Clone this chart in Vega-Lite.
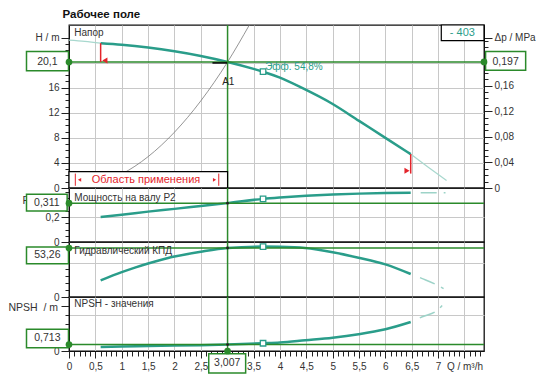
{
"$schema": "https://vega.github.io/schema/vega-lite/v6.json",
"padding": {"left": 7, "top": 8, "right": 0, "bottom": 0},
"bounds": "flush",
"spacing": 0,
"datasets": {
"headMain": [{"Q":0.6,"H":23.1},{"Q":1.0,"H":22.85},{"Q":1.5,"H":22.4},{"Q":2.0,"H":21.8},{"Q":2.5,"H":21.05},{"Q":3.007,"H":20.1},{"Q":3.5,"H":19.0},{"Q":3.68,"H":18.55},{"Q":4.0,"H":17.6},{"Q":4.41,"H":16.0},{"Q":5.0,"H":13.4},{"Q":5.5,"H":10.7},{"Q":6.0,"H":8.0},{"Q":6.48,"H":5.4}],
"headThin": [{"Q":0,"H":23.6,"seg":"a"},{"Q":0.3,"H":23.4,"seg":"a"},{"Q":0.6,"H":23.1,"seg":"a"},{"Q":6.48,"H":5.4,"seg":"b"},{"Q":6.8,"H":3.4,"seg":"b"},{"Q":7.16,"H":1.2,"seg":"b"}],
"system": [{"Q":0,"H":0},{"Q":0.5,"H":0.56},{"Q":1.0,"H":2.22},{"Q":1.5,"H":5.0},{"Q":2.0,"H":8.9},{"Q":2.5,"H":13.9},{"Q":3.007,"H":20.1},{"Q":3.42,"H":26.0}],
"powerMain": [{"Q":0.6,"P":0.2},{"Q":1.0,"P":0.218},{"Q":1.5,"P":0.243},{"Q":2.0,"P":0.265},{"Q":2.5,"P":0.288},{"Q":3.007,"P":0.311},{"Q":3.68,"P":0.345},{"Q":4.0,"P":0.356},{"Q":4.5,"P":0.37},{"Q":5.0,"P":0.38},{"Q":5.5,"P":0.387},{"Q":6.0,"P":0.392},{"Q":6.48,"P":0.394}],
"powerThin": [{"Q":6.48,"P":0.394},{"Q":6.8,"P":0.395},{"Q":7.14,"P":0.395}],
"effMain": [{"Q":0.6,"E":18},{"Q":1.0,"E":27},{"Q":1.25,"E":32},{"Q":1.5,"E":36.5},{"Q":1.88,"E":42.5},{"Q":2.0,"E":44},{"Q":2.5,"E":49.2},{"Q":3.007,"E":53.26},{"Q":3.68,"E":54.8},{"Q":4.0,"E":54.6},{"Q":4.48,"E":53.2},{"Q":5.0,"E":48.6},{"Q":5.49,"E":42.7},{"Q":6.0,"E":35.5},{"Q":6.48,"E":25}],
"effThin": [{"Q":6.48,"E":25},{"Q":6.7,"E":20},{"Q":7.0,"E":12.5},{"Q":7.14,"E":8}],
"npshMain": [{"Q":0.6,"N":0.45},{"Q":1.0,"N":0.5},{"Q":1.5,"N":0.55},{"Q":2.0,"N":0.6},{"Q":2.5,"N":0.65},{"Q":3.007,"N":0.713},{"Q":3.68,"N":0.86},{"Q":4.0,"N":0.95},{"Q":4.48,"N":1.2},{"Q":5.0,"N":1.48},{"Q":5.49,"N":1.86},{"Q":6.0,"N":2.41},{"Q":6.48,"N":3.22}],
"npshThin": [{"Q":6.48,"N":3.22},{"Q":6.7,"N":3.8},{"Q":7.0,"N":4.6},{"Q":7.14,"N":5.5}]
},
"vconcat": [
{
 "width": 415, "height": 163,
 "layer": [
  {
   "encoding": {
    "x": {"field":"Q","type":"quantitative","scale":{"domain":[0,7.87],"nice":false,"zero":false},"axis":{"values":[0,0.5,1,1.5,2,2.5,3,3.5,4,4.5,5,5.5,6,6.5,7,7.5],"labels":false,"ticks":false,"domain":false,"grid":true,"title":null}},
    "y": {"field":"H","type":"quantitative","scale":{"domain":[0,26.0],"nice":false,"zero":false},"axis":{"orient":"left","values":[0,1,2,3,4,5,6,7,8,9,10,11,12,13,14,15,16,17,18,19,20,21,22,23,24],"labelExpr":"datum.value == 24 ? 'H / m' : ((datum.value % 4 == 0 && datum.value != 20) ? datum.label : '')","tickSize":{"condition":{"test":"datum.value % 4 == 0","value":8},"value":4},"grid":true,"gridOpacity":{"condition":{"test":"datum.value % 4 == 0 && datum.value > 0 && datum.value < 24","value":1},"value":0},"labelOverlap":false,"labelFlush":false,"labelPadding":2,"title":null}}
   },
   "layer": [
    {"data":{"name":"system"},"mark":{"type":"line","color":"#7a7a7a","strokeWidth":0.8,"interpolate":"monotone"}},
    {"data":{"name":"headThin"},"mark":{"type":"line","color":"#a8d8ce","strokeWidth":1.2,"interpolate":"monotone"},"encoding":{"detail":{"field":"seg"}}},
    {"data":{"name":"headMain"},"mark":{"type":"line","color":"#2a9d8a","strokeWidth":2.5,"interpolate":"monotone"}},
    {"data":{"values":[{"Q":0,"Q2":7.87,"H":20.1}]},"mark":{"type":"rule","color":"#2b8a2b","strokeWidth":1.5},"encoding":{"x2":{"field":"Q2"}}},
    {"data":{"values":[{"Q":3.007,"H":0,"H2":26}]},"mark":{"type":"rule","color":"#2b8a2b","strokeWidth":1.5},"encoding":{"y2":{"field":"H2"}}},
    {"data":{"values":[{"Q":2.72,"Q2":3.0,"H":19.95}]},"mark":{"type":"rule","color":"black","strokeWidth":1.5},"encoding":{"x2":{"field":"Q2"}}},
    {"data":{"values":[{"Q":0.6,"H":23.1,"H2":20.1},{"Q":6.48,"H":5.4,"H2":2.3}]},"mark":{"type":"rule","color":"#e3242b","strokeWidth":1.5},"encoding":{"y2":{"field":"H2"}}},
    {"data":{"values":[{"Q":0.68,"H":20.35,"dir":"left"},{"Q":6.41,"H":2.75,"dir":"right"}]},"mark":{"type":"point","filled":true,"color":"#e3242b","size":35,"opacity":1},"encoding":{"shape":{"field":"dir","type":"nominal","scale":{"domain":["left","right"],"range":["triangle-left","triangle-right"]},"legend":null}}},
    {"data":{"values":[{"Q":0,"Q2":3.007,"H":0,"H2":2.6}]},"mark":{"type":"rect","fill":"white","stroke":"black","strokeWidth":1.2},"encoding":{"x2":{"field":"Q2"},"y2":{"field":"H2"}}},
    {"data":{"values":[{"Q":0.12,"H":0.35,"H2":2.3},{"Q":2.84,"H":0.35,"H2":2.3}]},"mark":{"type":"rule","color":"#e3242b","strokeWidth":1},"encoding":{"y2":{"field":"H2"}}},
    {"data":{"values":[{"Q":0.2,"H":1.3,"dir":"left"},{"Q":2.76,"H":1.3,"dir":"right"}]},"mark":{"type":"point","filled":true,"color":"#e3242b","size":14,"opacity":1},"encoding":{"shape":{"field":"dir","type":"nominal","scale":{"domain":["left","right"],"range":["triangle-left","triangle-right"]},"legend":null}}},
    {"data":{"values":[{"Q":1.46,"H":1.3,"t":"Область применения"}]},"mark":{"type":"text","color":"#e3242b","fontSize":11,"align":"center","baseline":"middle"},"encoding":{"text":{"field":"t"}}},
    {"data":{"values":[{"Q":7.06,"Q2":7.87,"H":23.5,"H2":26}]},"mark":{"type":"rect","fill":"white","stroke":"black","strokeWidth":1.2},"encoding":{"x2":{"field":"Q2"},"y2":{"field":"H2"}}},
    {"data":{"values":[{"Q":7.46,"H":24.75,"t":"- 403"}]},"mark":{"type":"text","color":"#2a9d8a","fontSize":11,"align":"center","baseline":"middle"},"encoding":{"text":{"field":"t"}}},
    {"data":{"values":[{"Q":-0.806,"Q2":-0.01,"H":18.71,"H2":21.79}]},"mark":{"type":"rect","fill":"white","stroke":"#2b8a2b","strokeWidth":1.5},"encoding":{"x2":{"field":"Q2"},"y2":{"field":"H2"}}},
    {"data":{"values":[{"Q":-0.41,"H":20.1,"t":"20,1"}]},"mark":{"type":"text","color":"#333","fontSize":10.5,"align":"center","baseline":"middle"},"encoding":{"text":{"field":"t"}}},
    {"data":{"values":[{"Q":0,"H":20.1}]},"mark":{"type":"point","filled":true,"color":"#2b8a2b","size":45,"opacity":1}},
    {"data":{"values":[{"Q":3.68,"H":18.55}]},"mark":{"type":"point","shape":"square","filled":true,"fill":"white","stroke":"#2a9d8a","strokeWidth":1.3,"size":30,"opacity":1}},
    {"data":{"values":[{"Q":0.1,"H":24.8,"t":"Напор"}]},"mark":{"type":"text","color":"#333","fontSize":10,"align":"left","baseline":"middle"},"encoding":{"text":{"field":"t"}}},
    {"data":{"values":[{"Q":3.02,"H":16.9,"t":"A1"}]},"mark":{"type":"text","color":"#222","fontSize":10,"align":"center","baseline":"middle"},"encoding":{"text":{"field":"t"}}},
    {"data":{"values":[{"Q":3.72,"H":19.25,"t":"Эфф.  54,8%"}]},"mark":{"type":"text","color":"#2a9d8a","fontSize":10,"align":"left","baseline":"middle"},"encoding":{"text":{"field":"t"}}},
    {"data":{"values":[{"Q":-0.123,"H":27.6,"t":"Рабочее поле"}]},"mark":{"type":"text","color":"#111","fontSize":11.5,"fontWeight":"bold","align":"left","baseline":"middle"},"encoding":{"text":{"field":"t"}}}
   ]
  },
  {
   "encoding": {
    "x": {"field":"Q","type":"quantitative","scale":{"domain":[0,7.87],"nice":false,"zero":false},"axis":{"values":[0,0.5,1,1.5,2,2.5,3,3.5,4,4.5,5,5.5,6,6.5,7,7.5],"labels":false,"ticks":false,"domain":false,"grid":true,"title":null}},
    "y": {"field":"dp","type":"quantitative","scale":{"domain":[0,0.2548],"nice":false,"zero":false},"axis":{"orient":"right","values":[0,0.01,0.02,0.03,0.04,0.05,0.06,0.07,0.08,0.09,0.1,0.11,0.12,0.13,0.14,0.15,0.16,0.17,0.18,0.19,0.2,0.21,0.22,0.23,0.235],"labelExpr":"datum.value == 0.235 ? 'Δp / MPa' : (datum.value == 0 ? '0' : ((abs(datum.value*25 - round(datum.value*25)) < 0.001 && datum.value < 0.17) ? replace(format(datum.value, '.2f'), '.', ',') : ''))","tickSize":{"condition":{"test":"abs(datum.value*25 - round(datum.value*25)) < 0.001 || datum.value == 0.235","value":8},"value":4},"grid":false,"labelOverlap":false,"labelFlush":false,"labelPadding":2,"title":null}}
   },
   "layer": [
    {"data":{"values":[{"Q":7.9,"Q2":8.66,"dp":0.184,"dp2":0.2134}]},"mark":{"type":"rect","fill":"white","stroke":"#2b8a2b","strokeWidth":1.5},"encoding":{"x2":{"field":"Q2"},"y2":{"field":"dp2"}}},
    {"data":{"values":[{"Q":8.28,"dp":0.197,"t":"0,197"}]},"mark":{"type":"text","color":"#333","fontSize":10.5,"align":"center","baseline":"middle"},"encoding":{"text":{"field":"t"}}},
    {"data":{"values":[{"Q":7.87,"dp":0.197}]},"mark":{"type":"point","filled":true,"color":"#2b8a2b","size":45,"opacity":1}}
   ]
  }
 ],
 "resolve": {"scale": {"y": "independent"}}
},
{
 "width": 415, "height": 54,
 "encoding": {
  "x": {"field":"Q","type":"quantitative","scale":{"domain":[0,7.87],"nice":false,"zero":false},"axis":{"values":[0,0.5,1,1.5,2,2.5,3,3.5,4,4.5,5,5.5,6,6.5,7,7.5],"labels":false,"ticks":false,"domain":false,"grid":true,"title":null}},
  "y": {"field":"P","type":"quantitative","scale":{"domain":[0,0.432],"nice":false,"zero":false},"axis":{"orient":"left","values":[0,0.05,0.1,0.15,0.2,0.25,0.3,0.35,0.4],"labelExpr":"datum.value == 0 ? '0' : (abs(datum.value-0.2) < 0.001 ? '0,2' : '')","tickSize":{"condition":{"test":"datum.value == 0 || abs(datum.value-0.2) < 0.001","value":8},"value":4},"grid":true,"gridOpacity":{"condition":{"test":"abs(datum.value-0.2) < 0.001","value":1},"value":0},"labelOverlap":false,"labelFlush":false,"labelPadding":2,"title":null}}
 },
 "layer": [
  {"data":{"name":"powerThin"},"mark":{"type":"line","color":"#9dd3c8","strokeWidth":1.5,"strokeDash":[0,10,16,7,3,30],"interpolate":"monotone"}},
  {"data":{"name":"powerMain"},"mark":{"type":"line","color":"#2a9d8a","strokeWidth":2.5,"interpolate":"monotone"}},
  {"data":{"values":[{"Q":0,"Q2":7.87,"P":0.311}]},"mark":{"type":"rule","color":"#2b8a2b","strokeWidth":1.5},"encoding":{"x2":{"field":"Q2"}}},
  {"data":{"values":[{"Q":3.007,"P":0,"P2":0.432}]},"mark":{"type":"rule","color":"#2b8a2b","strokeWidth":1.5},"encoding":{"y2":{"field":"P2"}}},
  {"data":{"values":[{"Q":3.007,"P":0.311}]},"mark":{"type":"point","filled":true,"color":"#222","size":8,"opacity":1}},
  {"data":{"values":[{"Q":-0.88,"P":0.328,"t":"P2 / kW"}]},"mark":{"type":"text","color":"#333","fontSize":10.5,"align":"left","baseline":"middle"},"encoding":{"text":{"field":"t"}}},
  {"data":{"values":[{"Q":-0.806,"Q2":-0.035,"P":0.248,"P2":0.3816}]},"mark":{"type":"rect","fill":"white","stroke":"#2b8a2b","strokeWidth":1.5},"encoding":{"x2":{"field":"Q2"},"y2":{"field":"P2"}}},
  {"data":{"values":[{"Q":-0.42,"P":0.315,"t":"0,311"}]},"mark":{"type":"text","color":"#333","fontSize":10.5,"align":"center","baseline":"middle"},"encoding":{"text":{"field":"t"}}},
  {"data":{"values":[{"Q":0,"P":0.311}]},"mark":{"type":"point","filled":true,"color":"#2b8a2b","size":45,"opacity":1}},
  {"data":{"values":[{"Q":3.68,"P":0.345}]},"mark":{"type":"point","shape":"square","filled":true,"fill":"white","stroke":"#2a9d8a","strokeWidth":1.3,"size":30,"opacity":1}},
  {"data":{"values":[{"Q":0.1,"P":0.356,"t":"Мощность на валу P2"}]},"mark":{"type":"text","color":"#333","fontSize":10,"align":"left","baseline":"middle"},"encoding":{"text":{"field":"t"}}}
 ]
},
{
 "width": 415, "height": 55,
 "encoding": {
  "x": {"field":"Q","type":"quantitative","scale":{"domain":[0,7.87],"nice":false,"zero":false},"axis":{"values":[0,0.5,1,1.5,2,2.5,3,3.5,4,4.5,5,5.5,6,6.5,7,7.5],"labels":false,"ticks":false,"domain":false,"grid":true,"title":null}},
  "y": {"field":"E","type":"quantitative","scale":{"domain":[0,59.8],"nice":false,"zero":false},"axis":{"orient":"left","values":[0,7.5,15,22.5,30,37.5,45,52.5],"labelExpr":"datum.value == 0 ? '0' : ''","tickSize":{"condition":{"test":"datum.value == 0","value":8},"value":4},"grid":true,"gridOpacity":{"condition":{"test":"datum.value == 37.5","value":1},"value":0},"labelOverlap":false,"labelFlush":false,"labelPadding":2,"title":null}}
 },
 "layer": [
  {"data":{"name":"effThin"},"mark":{"type":"line","color":"#9dd3c8","strokeWidth":1.5,"strokeDash":[0,10,16,7,3,30],"interpolate":"monotone"}},
  {"data":{"name":"effMain"},"mark":{"type":"line","color":"#2a9d8a","strokeWidth":2.5,"interpolate":"monotone"}},
  {"data":{"values":[{"Q":0,"Q2":7.87,"E":53.26}]},"mark":{"type":"rule","color":"#2b8a2b","strokeWidth":1.5},"encoding":{"x2":{"field":"Q2"}}},
  {"data":{"values":[{"Q":3.007,"E":0,"E2":59.8}]},"mark":{"type":"rule","color":"#2b8a2b","strokeWidth":1.5},"encoding":{"y2":{"field":"E2"}}},
  {"data":{"values":[{"Q":3.007,"E":53.26}]},"mark":{"type":"point","filled":true,"color":"#222","size":8,"opacity":1}},
  {"data":{"values":[{"Q":0.1,"E":50,"t":"Гидравлический КПД"}]},"mark":{"type":"text","color":"#333","fontSize":10,"align":"left","baseline":"middle"},"encoding":{"text":{"field":"t"}}},
  {"data":{"values":[{"Q":-0.806,"Q2":-0.01,"E":36.2,"E2":54.3}]},"mark":{"type":"rect","fill":"white","stroke":"#2b8a2b","strokeWidth":1.5},"encoding":{"x2":{"field":"Q2"},"y2":{"field":"E2"}}},
  {"data":{"values":[{"Q":-0.41,"E":45.3,"t":"53,26"}]},"mark":{"type":"text","color":"#333","fontSize":10.5,"align":"center","baseline":"middle"},"encoding":{"text":{"field":"t"}}},
  {"data":{"values":[{"Q":0,"E":53.26}]},"mark":{"type":"point","filled":true,"color":"#2b8a2b","size":45,"opacity":1}},
  {"data":{"values":[{"Q":3.68,"E":54.8}]},"mark":{"type":"point","shape":"square","filled":true,"fill":"white","stroke":"#2a9d8a","strokeWidth":1.3,"size":30,"opacity":1}}
 ]
},
{
 "width": 415, "height": 54,
 "encoding": {
  "x": {"field":"Q","type":"quantitative","scale":{"domain":[0,7.87],"nice":false,"zero":false},"axis":{"values":[0,0.1,0.2,0.3,0.4,0.5,0.6,0.7,0.8,0.9,1,1.1,1.2,1.3,1.4,1.5,1.6,1.7,1.8,1.9,2,2.1,2.2,2.3,2.4,2.5,2.6,2.7,2.8,2.9,3,3.1,3.2,3.3,3.4,3.5,3.6,3.7,3.8,3.9,4,4.1,4.2,4.3,4.4,4.5,4.6,4.7,4.8,4.9,5,5.1,5.2,5.3,5.4,5.5,5.6,5.7,5.8,5.9,6,6.1,6.2,6.3,6.4,6.5,6.6,6.7,6.8,6.9,7,7.1,7.2,7.3,7.4,7.5,7.6,7.7,7.8],"labelExpr":"(abs(datum.value*2-round(datum.value*2)) < 0.01 && datum.value != 3) ? (datum.value > 7.2 ? 'Q / m³/h' : replace(format(datum.value, '.1~f'), '.', ',')) : ''","tickSize":{"condition":{"test":"abs(datum.value*2-round(datum.value*2)) < 0.01","value":7},"value":5},"grid":true,"gridOpacity":{"condition":{"test":"abs(datum.value*2-round(datum.value*2)) < 0.01","value":1},"value":0},"labelOverlap":false,"labelFlush":false,"labelPadding":3,"title":null}},
  "y": {"field":"N","type":"quantitative","scale":{"domain":[0,6],"nice":false,"zero":false},"axis":{"orient":"left","values":[0,1,2,3,4,5],"labelExpr":"datum.value == 0 ? '0' : ''","tickSize":{"condition":{"test":"datum.value == 0 || datum.value == 5","value":8},"value":4},"grid":true,"gridOpacity":{"condition":{"test":"datum.value == 4","value":1},"value":0},"labelOverlap":false,"labelFlush":false,"labelPadding":2,"title":null}}
 },
 "layer": [
  {"data":{"name":"npshThin"},"mark":{"type":"line","color":"#9dd3c8","strokeWidth":1.5,"strokeDash":[0,10,16,7,3,30],"interpolate":"monotone"}},
  {"data":{"name":"npshMain"},"mark":{"type":"line","color":"#2a9d8a","strokeWidth":2.5,"interpolate":"monotone"}},
  {"data":{"values":[{"Q":0,"Q2":7.87,"N":0.713}]},"mark":{"type":"rule","color":"#2b8a2b","strokeWidth":1.5},"encoding":{"x2":{"field":"Q2"}}},
  {"data":{"values":[{"Q":3.007,"N":-0.3,"N2":6}]},"mark":{"type":"rule","color":"#2b8a2b","strokeWidth":1.5},"encoding":{"y2":{"field":"N2"}}},
  {"data":{"values":[{"Q":3.007,"N":0.713}]},"mark":{"type":"point","filled":true,"color":"#222","size":8,"opacity":1}},
  {"data":{"values":[{"Q":0.1,"N":5.17,"t":"NPSH - значения"}]},"mark":{"type":"text","color":"#333","fontSize":10,"align":"left","baseline":"middle"},"encoding":{"text":{"field":"t"}}},
  {"data":{"values":[{"Q":-1.147,"N":4.74,"t":"NPSH\u00a0\u00a0/ m"}]},"mark":{"type":"text","color":"#333","fontSize":10.5,"align":"left","baseline":"middle"},"encoding":{"text":{"field":"t"}}},
  {"data":{"values":[{"Q":-0.806,"Q2":-0.01,"N":0.37,"N2":2.41}]},"mark":{"type":"rect","fill":"white","stroke":"#2b8a2b","strokeWidth":1.5},"encoding":{"x2":{"field":"Q2"},"y2":{"field":"N2"}}},
  {"data":{"values":[{"Q":-0.41,"N":1.39,"t":"0,713"}]},"mark":{"type":"text","color":"#333","fontSize":10.5,"align":"center","baseline":"middle"},"encoding":{"text":{"field":"t"}}},
  {"data":{"values":[{"Q":2.65,"Q2":3.35,"N":-2.44,"N2":-0.3}]},"mark":{"type":"rect","fill":"white","stroke":"#2b8a2b","strokeWidth":1.5},"encoding":{"x2":{"field":"Q2"},"y2":{"field":"N2"}}},
  {"data":{"values":[{"Q":3.0,"N":-1.33,"t":"3,007"}]},"mark":{"type":"text","color":"#333","fontSize":10.5,"align":"center","baseline":"middle"},"encoding":{"text":{"field":"t"}}},
  {"data":{"values":[{"Q":0,"N":0.713},{"Q":3.007,"N":0}]},"mark":{"type":"point","filled":true,"color":"#2b8a2b","size":45,"opacity":1}},
  {"data":{"values":[{"Q":3.68,"N":0.86}]},"mark":{"type":"point","shape":"square","filled":true,"fill":"white","stroke":"#2a9d8a","strokeWidth":1.3,"size":30,"opacity":1}}
 ]
}
],
"resolve": {"scale": {"x": "independent", "y": "independent"}},
"config": {
 "view": {"stroke": "#111", "strokeWidth": 1.3},
 "axis": {"labelFont": "Liberation Sans", "labelFontSize": 10, "labelColor": "#333", "tickColor": "#222", "domainColor": "#111", "gridColor": "#c8c8c8", "gridWidth": 1},
 "text": {"font": "Liberation Sans"}
}
}
